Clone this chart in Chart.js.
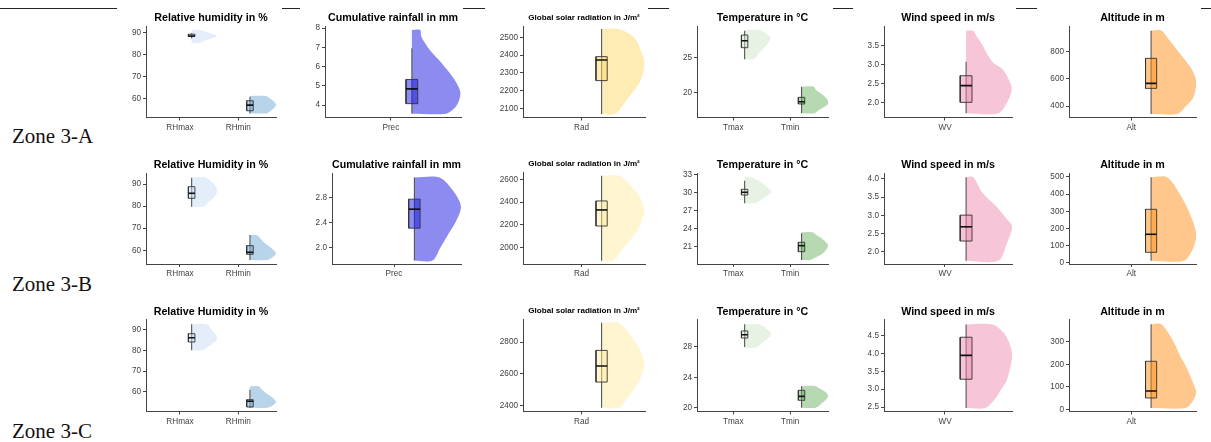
<!DOCTYPE html>
<html><head><meta charset="utf-8">
<script src="https://cdn.jsdelivr.net/npm/chart.js@4.4.0/dist/chart.umd.min.js"></script>
<style>
html,body{margin:0;padding:0;background:#fff;width:1211px;height:442px;overflow:hidden;position:relative;}
canvas{position:absolute;}
.zone{position:absolute;left:12px;font-family:'Liberation Serif','DejaVu Serif',serif;font-size:21px;line-height:21px;color:#111;white-space:nowrap;}
.rule{position:absolute;top:8px;height:1px;background:#222;}
</style></head><body>
<div class="zone" style="top:126px">Zone 3-A</div>
<div class="zone" style="top:274px">Zone 3-B</div>
<div class="zone" style="top:421px">Zone 3-C</div>
<script>
// ---------- categories ----------
const RH_CATS = ['RHmax', 'RHmin'];
const PREC_CATS = ['Prec'];
const RAD_CATS = ['Rad'];
const T_CATS = ['Tmax', 'Tmin'];
const WV_CATS = ['WV'];
const ALT_CATS = ['Alt'];

// ---------- tick labels ----------
const A_RH_TICKS = ['60', '70', '80', '90'];
const A_PREC_TICKS = ['4', '5', '6', '7', '8'];
const A_RAD_TICKS = ['2100', '2200', '2300', '2400', '2500'];
const A_T_TICKS = ['20', '25'];
const A_WV_TICKS = ['2.0', '2.5', '3.0', '3.5'];
const A_ALT_TICKS = ['400', '600', '800'];
const B_RH_TICKS = ['60', '70', '80', '90'];
const B_PREC_TICKS = ['2.0', '2.4', '2.8'];
const B_RAD_TICKS = ['2000', '2200', '2400', '2600'];
const B_T_TICKS = ['21', '24', '27', '30', '33'];
const B_WV_TICKS = ['2.0', '2.5', '3.0', '3.5', '4.0'];
const B_ALT_TICKS = ['0', '100', '200', '300', '400', '500'];
const C_RH_TICKS = ['60', '70', '80', '90'];
const C_RAD_TICKS = ['2400', '2600', '2800'];
const C_T_TICKS = ['20', '24', '28'];
const C_WV_TICKS = ['2.5', '3.0', '3.5', '4.0', '4.5'];
const C_ALT_TICKS = ['0', '100', '200', '300'];

// ---------- box stats: [lower whisker, q1, median, q3, upper whisker] ----------
// ---------- violin: values (vy) and half widths in category units (vw) ----------
// Zone 3-A
const A_RHMAX_BOX = [87.4, 88.3, 88.5, 89.3, 89.7];
const A_RHMAX_VY = [85.4, 86.5, 87.5, 88.5, 89.5, 90.5, 91.2];
const A_RHMAX_VW = [0.15, 0.24, 0.36, 0.43, 0.34, 0.22, 0.12];
const A_RHMIN_BOX = [53.1, 54.3, 56.9, 58.9, 60.7];
const A_RHMIN_VY = [53.1, 54, 55, 56, 57, 58, 59, 60, 61.05];
const A_RHMIN_VW = [0.29, 0.34, 0.39, 0.43, 0.45, 0.43, 0.39, 0.34, 0.27];
const A_PREC_BOX = [3.56, 4.07, 4.84, 5.33, 6.95];
const A_PREC_VY = [3.55, 3.83, 4.17, 4.69, 5.39, 6.26, 6.8, 7.3, 7.6, 7.91];
const A_PREC_VW = [0.324, 0.403, 0.444, 0.46, 0.396, 0.27, 0.18, 0.117, 0.088, 0.079];
const A_RAD_BOX = [2068, 2256, 2372, 2391, 2547];
const A_RAD_VY = [2068, 2147, 2250, 2344, 2430, 2503, 2547];
const A_RAD_VW = [0.133, 0.25, 0.383, 0.427, 0.39, 0.317, 0.167];
const A_TMAX_BOX = [24.77, 26.43, 27.43, 28.24, 28.86];
const A_TMAX_VY = [24.77, 25.4, 26.2, 27.0, 27.8, 28.4, 28.96];
const A_TMAX_VW = [0.158, 0.228, 0.316, 0.404, 0.457, 0.387, 0.264];
const A_TMIN_BOX = [17.06, 18.39, 18.71, 19.34, 20.86];
const A_TMIN_VY = [17.06, 17.5, 18.0, 18.5, 19.0, 19.7, 20.3, 20.86];
const A_TMIN_VW = [0.228, 0.299, 0.404, 0.469, 0.457, 0.369, 0.264, 0.211];
const A_WV_BOX = [1.72, 2.01, 2.45, 2.71, 3.08];
const A_WV_VY = [1.72, 2.07, 2.38, 2.86, 3.05, 3.30, 3.55, 3.74, 3.89];
const A_WV_VW = [0.305, 0.4, 0.433, 0.352, 0.257, 0.195, 0.148, 0.1, 0.067];
const A_ALT_BOX = [341, 530, 567, 751, 955];
const A_ALT_VY = [341, 395, 469, 579, 665, 740, 812, 890, 955];
const A_ALT_VW = [0.262, 0.345, 0.429, 0.456, 0.413, 0.34, 0.262, 0.18, 0.104];
// Zone 3-B
const B_RHMAX_BOX = [79.73, 83.53, 85.8, 88.78, 92.85];
const B_RHMAX_VY = [79.7, 81, 83, 85, 87, 89, 91, 93];
const B_RHMAX_VW = [0.206, 0.257, 0.343, 0.412, 0.439, 0.412, 0.343, 0.24];
const B_RHMIN_BOX = [55.6, 58.2, 59.1, 62.1, 66.9];
const B_RHMIN_VY = [55.6, 57, 58.6, 60.9, 63.9, 66.9];
const B_RHMIN_VW = [0.286, 0.395, 0.446, 0.372, 0.228, 0.115];
const B_PREC_BOX = [1.80, 2.315, 2.616, 2.775, 3.12];
const B_PREC_VY = [1.8, 2.0, 2.2, 2.4, 2.65, 2.9, 3.12];
const B_PREC_VW = [0.177, 0.253, 0.325, 0.401, 0.457, 0.384, 0.246];
const B_RAD_BOX = [1886, 2190, 2331, 2410, 2631];
const B_RAD_VY = [1886, 1995, 2140, 2240, 2331, 2430, 2521, 2631];
const B_RAD_VW = [0.116, 0.216, 0.35, 0.40, 0.426, 0.39, 0.316, 0.176];
const B_TMAX_BOX = [28.19, 29.57, 30.02, 30.51, 31.94];
const B_TMAX_VY = [28.19, 28.74, 29.4, 30.12, 30.9, 31.77, 32.5];
const B_TMAX_VW = [0.176, 0.281, 0.387, 0.469, 0.387, 0.281, 0.105];
const B_TMIN_BOX = [18.79, 20.17, 21.17, 21.73, 23.22];
const B_TMIN_VY = [18.79, 19.3, 19.9, 21.17, 22.39, 22.9, 23.39];
const B_TMIN_VW = [0.146, 0.264, 0.38, 0.467, 0.351, 0.264, 0.193];
const B_WV_BOX = [1.76, 2.30, 2.69, 3.01, 4.05];
const B_WV_VY = [1.76, 2.24, 2.69, 2.95, 3.24, 3.45, 3.65, 4.05];
const B_WV_VW = [0.305, 0.386, 0.438, 0.371, 0.29, 0.21, 0.148, 0.067];
const B_ALT_BOX = [12, 60.7, 165.7, 311.5, 498];
const B_ALT_VY = [12, 84, 162, 278, 395, 498];
const B_ALT_VW = [0.332, 0.423, 0.456, 0.396, 0.295, 0.161];
// Zone 3-C
const C_RHMAX_BOX = [80.0, 84.04, 86.1, 88.06, 92.6];
const C_RHMAX_VY = [80.0, 82, 84, 85.6, 87.5, 90, 92.6];
const C_RHMAX_VW = [0.182, 0.292, 0.395, 0.439, 0.412, 0.343, 0.268];
const C_RHMIN_BOX = [52.26, 52.6, 55.35, 56.13, 60.97];
const C_RHMIN_VY = [52.26, 53.5, 55.0, 57, 59.03, 61, 62.6];
const C_RHMIN_VW = [0.292, 0.395, 0.451, 0.395, 0.292, 0.206, 0.148];
const C_RAD_BOX = [2385, 2547, 2648, 2747, 2922];
const C_RAD_VY = [2385, 2442, 2526, 2590, 2663, 2740, 2821, 2922];
const C_RAD_VW = [0.176, 0.25, 0.35, 0.40, 0.426, 0.39, 0.316, 0.166];
const C_TMAX_BOX = [28.0, 29.18, 29.61, 30.1, 30.98];
const C_TMAX_VY = [27.9, 28.5, 29.1, 29.74, 30.4, 30.98];
const C_TMAX_VW = [0.193, 0.299, 0.404, 0.469, 0.387, 0.251];
const C_TMIN_BOX = [20.04, 21.01, 21.53, 22.32, 22.85];
const C_TMIN_VY = [20.04, 20.6, 21.0, 21.57, 22.1, 22.5, 22.89];
const C_TMIN_VW = [0.251, 0.351, 0.422, 0.467, 0.422, 0.334, 0.234];
const C_WV_BOX = [2.47, 3.28, 3.95, 4.46, 4.82];
const C_WV_VY = [2.47, 2.73, 3.0, 3.25, 3.95, 4.3, 4.60, 4.82];
const C_WV_VW = [0.181, 0.276, 0.333, 0.386, 0.438, 0.41, 0.352, 0.252];
const C_ALT_BOX = [5.8, 50.4, 81.6, 214, 379];
const C_ALT_VY = [5.8, 32.5, 77, 120, 181, 240, 300, 379];
const C_ALT_VW = [0.345, 0.413, 0.456, 0.42, 0.363, 0.29, 0.228, 0.104];

// ---------- styles & layout ----------
const FONT = "'Liberation Sans', Arial, Helvetica, sans-serif";
const COLORS = {
  RHmax: 'rgba(201,221,247,0.5)', RHmin: 'rgba(111,169,213,0.5)',
  Prec: 'rgba(23,23,225,0.5)', RadA: 'rgba(255,217,105,0.5)', RadB: 'rgba(255,235,161,0.5)',
  Tmax: 'rgba(207,229,203,0.5)', Tmin: 'rgba(109,179,99,0.5)',
  WV: 'rgba(237,139,175,0.5)', Alt: 'rgba(255,143,23,0.5)'
};
const ROWS = [
  {top: 26, bottom: 117.5, titleY: 18.3},
  {top: 173, bottom: 264, titleY: 165},
  {top: 320, bottom: 411.5, titleY: 312}
];
const COLS = {
  RH: {L: 146, R: 276, xr: [0.417, 2.647]},
  Prec1: {L: 325, R: 461, xr: [0.374, 1.667]},
  Prec2: {L: 332, R: 461, xr: [0.392, 1.657]},
  Rad: {L: 523, R: 645, xr: [0.416, 1.633]},
  Temp: {L: 697, R: 828, xr: [0.363, 2.665]},
  WV: {L: 884, R: 1012, xr: [0.422, 1.635]},
  Alt: {L: 1069, R: 1196, xr: [0.374, 1.652]}
};
const RULES = [[0, 117], [282, 300], [463, 485], [648, 669], [833, 853], [1016, 1037], [1201, 1211]];
const NUDGE = 0.2, BH = 0.056;

RULES.forEach(([a, b]) => {
  const d = document.createElement('div');
  d.className = 'rule'; d.style.left = a + 'px'; d.style.width = (b - a) + 'px';
  document.body.appendChild(d);
});

const S = (box, vy, vw, color) => ({box, vy, vw, color});
const PANELS = [
  {row: 0, col: 'RH', title: 'Relative humidity in %', ts: 10.7, cats: RH_CATS, ticks: A_RH_TICKS, yr: [51.22, 93.06],
   series: [S(A_RHMAX_BOX, A_RHMAX_VY, A_RHMAX_VW, COLORS.RHmax), S(A_RHMIN_BOX, A_RHMIN_VY, A_RHMIN_VW, COLORS.RHmin)]},
  {row: 0, col: 'Prec1', title: 'Cumulative rainfall in mm', ts: 10.7, cats: PREC_CATS, ticks: A_PREC_TICKS, yr: [3.349, 8.115],
   series: [S(A_PREC_BOX, A_PREC_VY, A_PREC_VW, COLORS.Prec)]},
  {row: 0, col: 'Rad', title: 'Global solar radiation in J/m²', ts: 8.1, dy: -1, cats: RAD_CATS, ticks: A_RAD_TICKS, yr: [2048.2, 2563.7],
   series: [S(A_RAD_BOX, A_RAD_VY, A_RAD_VW, COLORS.RadA)]},
  {row: 0, col: 'Temp', title: 'Temperature in °C', ts: 10.7, cats: T_CATS, ticks: A_T_TICKS, yr: [16.46, 29.53],
   series: [S(A_TMAX_BOX, A_TMAX_VY, A_TMAX_VW, COLORS.Tmax), S(A_TMIN_BOX, A_TMIN_VY, A_TMIN_VW, COLORS.Tmin)]},
  {row: 0, col: 'WV', title: 'Wind speed in m/s', ts: 10.7, cats: WV_CATS, ticks: A_WV_TICKS, yr: [1.611, 4.018],
   series: [S(A_WV_BOX, A_WV_VY, A_WV_VW, COLORS.WV)]},
  {row: 0, col: 'Alt', title: 'Altitude in m', ts: 10.7, cats: ALT_CATS, ticks: A_ALT_TICKS, yr: [315.3, 989.3],
   series: [S(A_ALT_BOX, A_ALT_VY, A_ALT_VW, COLORS.Alt)]},

  {row: 1, col: 'RH', title: 'Relative Humidity in %', ts: 10.7, cats: RH_CATS, ticks: B_RH_TICKS, yr: [53.8, 94.98],
   series: [S(B_RHMAX_BOX, B_RHMAX_VY, B_RHMAX_VW, COLORS.RHmax), S(B_RHMIN_BOX, B_RHMIN_VY, B_RHMIN_VW, COLORS.RHmin)]},
  {row: 1, col: 'Prec2', title: 'Cumulative rainfall in mm', ts: 10.7, cats: PREC_CATS, ticks: B_PREC_TICKS, yr: [1.746, 3.19],
   series: [S(B_PREC_BOX, B_PREC_VY, B_PREC_VW, COLORS.Prec)]},
  {row: 1, col: 'Rad', title: 'Global solar radiation in J/m²', ts: 8.1, dy: -1, cats: RAD_CATS, ticks: B_RAD_TICKS, yr: [1857, 2655],
   series: [S(B_RAD_BOX, B_RAD_VY, B_RAD_VW, COLORS.RadB)]},
  {row: 1, col: 'Temp', title: 'Temperature in °C', ts: 10.7, cats: T_CATS, ticks: B_T_TICKS, yr: [18.13, 33.22],
   series: [S(B_TMAX_BOX, B_TMAX_VY, B_TMAX_VW, COLORS.Tmax), S(B_TMIN_BOX, B_TMIN_VY, B_TMIN_VW, COLORS.Tmin)]},
  {row: 1, col: 'WV', title: 'Wind speed in m/s', ts: 10.7, cats: WV_CATS, ticks: B_WV_TICKS, yr: [1.671, 4.164],
   series: [S(B_WV_BOX, B_WV_VY, B_WV_VW, COLORS.WV)]},
  {row: 1, col: 'Alt', title: 'Altitude in m', ts: 10.7, cats: ALT_CATS, ticks: B_ALT_TICKS, yr: [-7.6, 523.3],
   series: [S(B_ALT_BOX, B_ALT_VY, B_ALT_VW, COLORS.Alt)]},

  {row: 2, col: 'RH', title: 'Relative Humidity in %', ts: 10.7, cats: RH_CATS, ticks: C_RH_TICKS, yr: [50.42, 94.69],
   series: [S(C_RHMAX_BOX, C_RHMAX_VY, C_RHMAX_VW, COLORS.RHmax), S(C_RHMIN_BOX, C_RHMIN_VY, C_RHMIN_VW, COLORS.RHmin)]},
  {row: 2, col: 'Rad', title: 'Global solar radiation in J/m²', ts: 8.1, dy: -1, cats: RAD_CATS, ticks: C_RAD_TICKS, yr: [2361, 2939],
   series: [S(C_RAD_BOX, C_RAD_VY, C_RAD_VW, COLORS.RadB)]},
  {row: 2, col: 'Temp', title: 'Temperature in °C', ts: 10.7, cats: T_CATS, ticks: C_T_TICKS, yr: [19.54, 31.54],
   series: [S(C_TMAX_BOX, C_TMAX_VY, C_TMAX_VW, COLORS.Tmax), S(C_TMIN_BOX, C_TMIN_VY, C_TMIN_VW, COLORS.Tmin)]},
  {row: 2, col: 'WV', title: 'Wind speed in m/s', ts: 10.7, cats: WV_CATS, ticks: C_WV_TICKS, yr: [2.374, 4.944],
   series: [S(C_WV_BOX, C_WV_VY, C_WV_VW, COLORS.WV)]},
  {row: 2, col: 'Alt', title: 'Altitude in m', ts: 10.7, cats: ALT_CATS, ticks: C_ALT_TICKS, yr: [-9.8, 398],
   series: [S(C_ALT_BOX, C_ALT_VY, C_ALT_VW, COLORS.Alt)]}
];

Chart.defaults.font.family = FONT;

function buildDatasets(p) {
  const ds = [];
  p.series.forEach((s, i) => {
    const x0 = i + 1 + NUDGE;
    const [lo, q1, med, q3, hi] = s.box;
    const vpts = [{x: x0, y: s.vy[0]}];
    s.vy.forEach((y, k) => vpts.push({x: x0 + s.vw[k], y: y}));
    vpts.push({x: x0, y: s.vy[s.vy.length - 1]});
    ds.push({data: vpts, fill: 'shape', backgroundColor: s.color, borderWidth: 0, borderColor: 'rgba(0,0,0,0)',
             pointRadius: 0, tension: 0.3, order: 10});
    ds.push({data: [{x: x0, y: lo}, {x: x0, y: hi}], fill: false, borderColor: '#555', borderWidth: 1.1,
             pointRadius: 0, tension: 0, order: 6});
    ds.push({data: [{x: x0 - BH, y: q1}, {x: x0 + BH, y: q1}, {x: x0 + BH, y: q3}, {x: x0 - BH, y: q3}, {x: x0 - BH, y: q1}],
             fill: 'shape', backgroundColor: s.color, borderColor: '#333', borderWidth: 0.9,
             pointRadius: 0, tension: 0, order: 3});
    ds.push({data: [{x: x0 - BH, y: med}, {x: x0 + BH, y: med}], fill: false, borderColor: '#111', borderWidth: 1.6,
             pointRadius: 0, tension: 0, order: 1});
  });
  return ds;
}

function makePanel(p) {
  const row = ROWS[p.row], col = COLS[p.col];
  const W = 40, RP = 2;
  const titleY = row.titleY + (p.dy || 0);
  const lh = p.ts * 1.2;
  const canvasTop = Math.floor(titleY - lh / 2 - 2);
  const padTop = titleY - lh / 2 - canvasTop;
  const padBottom = row.top - titleY - lh / 2;
  const width = W + (col.R - col.L) + RP;
  const height = Math.ceil(row.bottom + 22 - canvasTop);
  const xH = height - (row.bottom - canvasTop);
  const c = document.createElement('canvas');
  c.width = width; c.height = height;
  c.style.left = (col.L - W) + 'px'; c.style.top = canvasTop + 'px';
  c.style.width = width + 'px'; c.style.height = height + 'px';
  document.body.appendChild(c);
  const tickVals = p.ticks.map(parseFloat);
  const tickFont = {family: FONT, size: 8.2};
  new Chart(c, {
    type: 'line',
    data: {datasets: buildDatasets(p)},
    options: {
      responsive: false, animation: false, devicePixelRatio: 1, events: [],
      layout: {padding: {left: 0, right: RP, top: 0, bottom: 0}},
      plugins: {
        legend: {display: false}, tooltip: {enabled: false},
        title: {display: true, text: p.title, fullSize: false, color: '#000',
                font: {family: FONT, size: p.ts, weight: 'bold', lineHeight: 1.2},
                padding: {top: padTop, bottom: padBottom}}
      },
      scales: {
        x: {
          type: 'linear', min: col.xr[0], max: col.xr[1], bounds: 'data',
          afterBuildTicks: (s) => { s.ticks = p.cats.map((_, i) => ({value: i + 1})); },
          afterFit: (s) => { s.height = xH; },
          ticks: {autoSkip: false, maxRotation: 0, padding: 2, color: '#3f3f3f', font: tickFont,
                  callback: (v) => p.cats[Math.round(v) - 1] || ''},
          grid: {display: true, drawOnChartArea: false, drawTicks: true, tickLength: 3, color: '#444', tickColor: '#444', tickWidth: 1},
          border: {display: true, color: '#444', width: 1}
        },
        y: {
          type: 'linear', min: p.yr[0], max: p.yr[1], bounds: 'data',
          afterBuildTicks: (s) => { s.ticks = tickVals.map(v => ({value: v})); },
          afterFit: (s) => { s.width = W; },
          ticks: {autoSkip: false, padding: 2, color: '#3f3f3f', font: tickFont,
                  callback: (v) => { const k = tickVals.indexOf(v); return k >= 0 ? p.ticks[k] : ''; }},
          grid: {display: true, drawOnChartArea: false, drawTicks: true, tickLength: 3, color: '#444', tickColor: '#444', tickWidth: 1},
          border: {display: true, color: '#444', width: 1}
        }
      }
    }
  });
}

PANELS.forEach(makePanel);
</script>
</body></html>
